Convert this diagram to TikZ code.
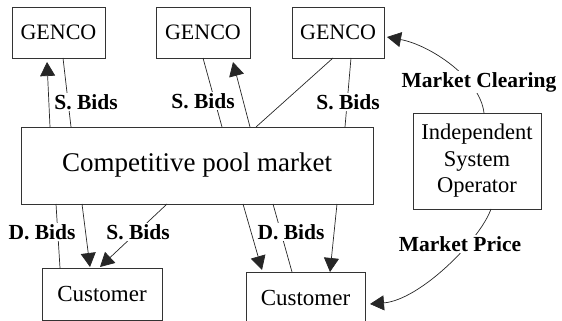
\documentclass[tikz,border=0pt]{standalone}
\usepackage{fontspec}
\setmainfont{Liberation Serif}
\usetikzlibrary{arrows.meta,calc}
\begin{document}
\begin{tikzpicture}[x=1pt,y=-1pt,
  box/.style={draw=black!80, line width=0.8pt, inner sep=0pt, outer sep=0pt,
    font=\fontsize{22}{26}\selectfont},
  lbl/.style={fill=white, inner sep=1pt, font=\bfseries\fontsize{21.5}{24}\selectfont},
  link/.style={draw=black!85, line width=0.7pt},
  arr/.style={link, -{Triangle[length=14pt,width=15pt]}}]
\clip (0,0) rectangle (562,321);

% boxes
\node[box, minimum width=93pt, minimum height=51pt] (g1) at (58.5,32.5) {GENCO};
\node[box, minimum width=94pt, minimum height=51pt] (g2) at (203,32.5) {GENCO};
\node[box, minimum width=92pt, minimum height=51pt] (g3) at (338,32.5) {GENCO};
\node[box, minimum width=352pt, minimum height=77pt, font=\fontsize{27}{30}\selectfont] (mkt) at (197,165.5) {Competitive pool market};
\node[box, minimum width=128pt, minimum height=96pt, align=center, font=\fontsize{22.5}{26.5}\selectfont] (iso) at (477,161) {Independent\\System\\Operator};
\node[box, minimum width=120pt, minimum height=52pt, font=\fontsize{23}{26}\selectfont] (c1) at (102,294) {Customer};
\node[box, minimum width=119pt, minimum height=52pt, font=\fontsize{23}{26}\selectfont] (c2) at (305.5,298) {Customer};

% market to generators
\draw[arr] ($(mkt.north west)+(29,0)$) -- ($(g1.south west)+(35,4)$);
\draw[link] ($(g1.south west)+(51,0)$) -- ($(mkt.north west)+(50,0)$);
\draw[arr] ($(mkt.north west)+(229,0)$) -- ($(g2.south west)+(77,4)$);
\draw[link] ($(g2.south west)+(47,0)$) -- ($(mkt.north west)+(201,0)$);
\draw[link] ($(g3.south west)+(41,0)$) -- ($(mkt.north west)+(235,0)$);
\draw[link] ($(g3.south west)+(59,0)$) -- ($(mkt.north west)+(324,0)$);

% system operator
\draw[arr] ($(iso.north west)+(71,0)$) .. controls (480,78) and (430,45) .. ($(g3.east)+(3,4.5)$);
\draw[arr] ($(iso.south west)+(78,0)$) .. controls (480,240) and (420,300) .. ($(c2.east)+(5,6)$);

% market to customers
\draw[link] ($(c1.north west)+(18,0)$) -- ($(mkt.south west)+(35,0)$);
\draw[arr] ($(mkt.south west)+(61,0)$) -- ($(c1.north west)+(48,-1)$);
\draw[arr] ($(mkt.south west)+(146,0)$) -- ($(c1.north west)+(58,-1)$);
\draw[arr] ($(mkt.south west)+(222,0)$) -- ($(c2.north west)+(16,-2)$);
\draw[link] ($(mkt.south west)+(252,0)$) -- ($(c2.north west)+(46,0)$);
\draw[arr] ($(mkt.south west)+(316,0)$) -- ($(c2.north west)+(84,0)$);

% edge labels
\node[lbl] (l1) at (86,102) {S. Bids};
\node[lbl] (l2) at (203,101) {S. Bids};
\node[lbl] (l3) at (348,102) {S. Bids};
\node[lbl] (l4) at (479,82) {Market Clearing};
\node[lbl] (l5) at (460,244) {Market Price};
\node[lbl] (l6) at (42,232) {D. Bids};
\node[lbl] (l7) at (138,232) {S. Bids};
\node[lbl] (l8) at (291,232) {D. Bids};
\end{tikzpicture}
\end{document}
